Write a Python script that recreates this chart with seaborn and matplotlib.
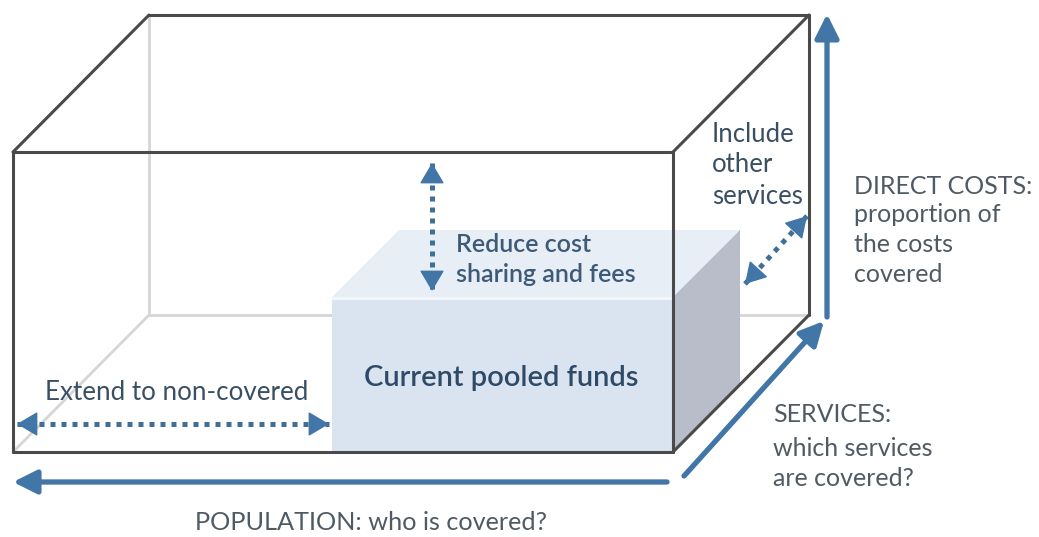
import matplotlib
matplotlib.use("Agg")
import matplotlib.pyplot as plt
from matplotlib.patches import Polygon
import seaborn as sns

# ---- content -------------------------------------------------------------
pooled_label = "Current pooled funds"
reduce_lines = ["Reduce cost", "sharing and fees"]
include_lines = ["Include", "other", "services"]
extend_label = "Extend to non-covered"
direct_lines = ["DIRECT COSTS:", "proportion of", "the costs", "covered"]
services_lines = ["SERVICES:", "which services", "are covered?"]
population_label = "POPULATION: who is covered?"

# ---- layout (pixel space, y downward) -----------------------------------
W, H = 1039, 537
outer_front = [(13, 152), (673, 152), (673, 452), (13, 452)]
outer_depth = (136, -137)
inner_front = [(332, 297), (673, 297), (673, 452), (332, 452)]
inner_depth = (67, -67)

sns.set_theme(style="white")
plt.rcParams["font.family"] = ["Lato", "DejaVu Sans"]

fig = plt.figure(figsize=(W / 100, H / 100), dpi=100)
ax = fig.add_axes([0, 0, 1, 1])
ax.set_xlim(0, W)
ax.set_ylim(H, 0)
ax.axis("off")

dark = "#4a4a4a"
light = "#d6d6d6"
arrow_c = "#4276a6"
dot_c = "#3f6f96"


def shift(p, d):
    return (p[0] + d[0], p[1] + d[1])


ftl, ftr, fbr, fbl = outer_front
btl, btr, bbr, bbl = [shift(p, outer_depth) for p in outer_front]

# hidden (back) edges, light gray
for a, b in [(btl, bbl), (bbl, bbr), (fbl, bbl)]:
    ax.plot([a[0], b[0]], [a[1], b[1]], color=light, lw=2.0, zorder=1,
            solid_capstyle="round")

# inner box (current pooled funds)
itl, itr, ibr, ibl = inner_front
jtl, jtr, jbr, jbl = [shift(p, inner_depth) for p in inner_front]
ax.add_patch(Polygon([itl, itr, jtr, jtl], closed=True, fc="#e7eef6",
                     ec="none", zorder=2))
ax.add_patch(Polygon([itr, jtr, jbr, ibr], closed=True, fc="#b9bcc9",
                     ec="none", zorder=2))
ax.add_patch(Polygon(inner_front, closed=True, fc="#d9e4f0",
                     ec="none", zorder=2))
ax.plot([itl[0], itr[0]], [itl[1] + 1, itr[1] + 1], color="#f4f7fb", lw=2,
        zorder=2.5)

# visible cube edges, dark
for a, b in [(ftl, ftr), (ftr, fbr), (fbr, fbl), (fbl, ftl),
             (ftl, btl), (btl, btr), (btr, ftr), (btr, bbr), (bbr, fbr)]:
    ax.plot([a[0], b[0]], [a[1], b[1]], color=dark, lw=2.2, zorder=3,
            solid_capstyle="round")


def solid_arrow(start, tip):
    ax.annotate("", xy=tip, xytext=start, zorder=4,
                arrowprops=dict(arrowstyle="-|>,head_length=1.2,head_width=0.6",
                                color=arrow_c, lw=3.8, shrinkA=0, shrinkB=0))


def dotted_arrow(p, q):
    ax.plot([p[0], q[0]], [p[1], q[1]], color=dot_c, lw=3.6,
            linestyle=(0, (1, 1.2)), dash_capstyle="butt", zorder=4)
    for a, b in [(p, q), (q, p)]:
        dx, dy = b[0] - a[0], b[1] - a[1]
        L = (dx ** 2 + dy ** 2) ** 0.5
        base = (b[0] - dx / L * 15, b[1] - dy / L * 15)
        ax.annotate("", xy=b, xytext=base, zorder=5,
                    arrowprops=dict(arrowstyle="-|>,head_length=1.1,head_width=0.65",
                                    color=arrow_c, lw=1.0, shrinkA=0, shrinkB=0))


# main axis arrows
solid_arrow((667, 482), (13, 482))
solid_arrow((684, 476), (824, 321))
solid_arrow((827, 317), (827, 14))

# dotted double arrows
dotted_arrow((432, 163), (432, 291))
dotted_arrow((745, 284), (807, 216))
dotted_arrow((17, 424), (329, 424))

# ---- texts ---------------------------------------------------------------
txt_dark = "#3a4f63"
txt_grey = "#4f5a64"

ax.text(501, 378, pooled_label, ha="center", va="center", fontsize=21,
        color="#2f4a66", fontweight="semibold", zorder=6)
for y, s in zip([245, 275], reduce_lines):
    ax.text(456, y, s, ha="left", va="center", fontsize=18,
            color="#3d5a78", fontweight="semibold", zorder=6)
for y, s in zip([135, 165, 196], include_lines):
    ax.text(712, y, s, ha="left", va="center", fontsize=18.5,
            color=txt_dark, zorder=6)
ax.text(45, 393, extend_label, ha="left", va="center", fontsize=18.7,
        color=txt_dark, zorder=6)
for y, s in zip([186, 215, 245, 275], direct_lines):
    ax.text(854, y, s, ha="left", va="center", fontsize=18,
            color=txt_grey, zorder=6)
for y, s in zip([415, 448, 478], services_lines):
    ax.text(773, y, s, ha="left", va="center", fontsize=18,
            color=txt_grey, zorder=6)
ax.text(371, 523, population_label, ha="center", va="center", fontsize=18.2,
        color=txt_grey, zorder=6)

fig.savefig("out.png", dpi=100)
